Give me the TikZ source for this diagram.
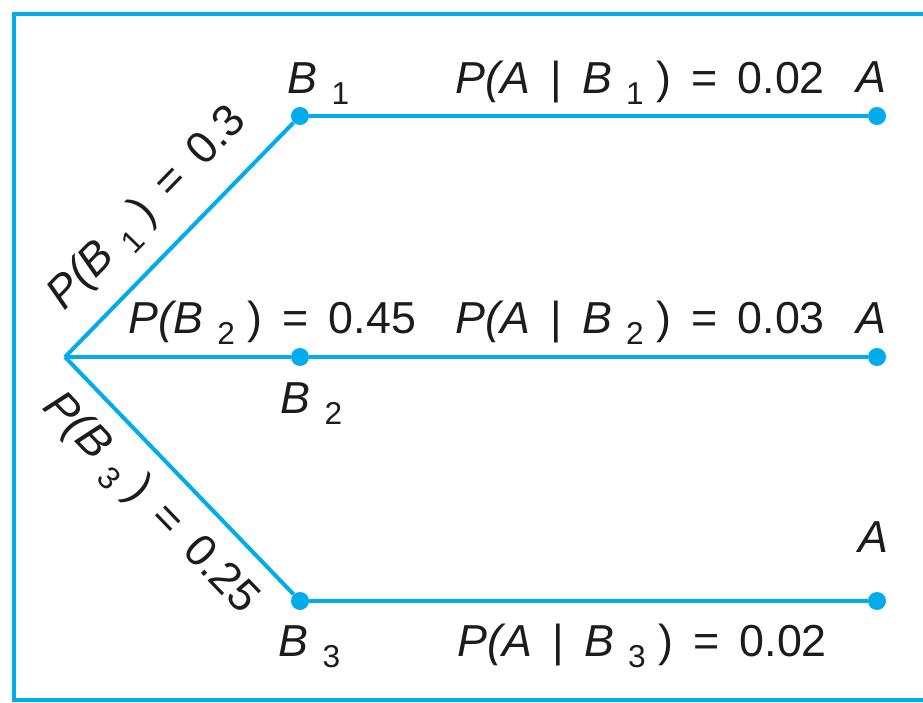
\documentclass[tikz,border=0pt]{standalone}
\usepackage{fontspec}
\setmainfont{Liberation Sans}
\usetikzlibrary{positioning}
\definecolor{treeblue}{RGB}{0,172,236}
\definecolor{ink}{RGB}{30,27,28}
\tikzset{
branch/.style={draw=treeblue, line width=0.08cm},
frame/.style={draw=treeblue, line width=0.09cm},
dot/.style={circle, fill=treeblue, inner sep=0pt, minimum size=0.36cm},
lbl/.style={text=ink, inner sep=0pt, font=\fontsize{25.5}{30}\selectfont}
}
\newcommand{\sbs}[1]{\hspace{0.32em}\raisebox{-0.25em}{\fontsize{18}{21}\selectfont\upshape #1}\hspace{0.28em}}
\newcommand{\gap}{\hspace{0.45em}}

\begin{document}
\begin{tikzpicture}[x=0.02cm, y=-0.02cm]
	\useasboundingbox (0,0) rectangle (923,703);
	\draw[frame] (940,14) -- (14,14) -- (14,700) -- (940,700);
	% root and the three events
	\coordinate (o) at (65,357);
	\node[dot] (b1) at (300,116) {};
	\node[dot] (b2) at (300,357) {};
	\node[dot] (b3) at (300,601) {};
	\node[dot] (a1) at (877,116) {};
	\node[dot] (a2) at (877,357) {};
	\node[dot] (a3) at (877,601) {};
	\draw[branch] (o) -- node[lbl, sloped, above=11pt] (pb1) {\textit{P(B}\sbs{1})\gap=\gap0.3} (b1);
	\draw[branch] (o) -- (b2);
	\draw[branch] (o) -- node[lbl, sloped, below=10pt] (pb3) {\textit{P(B}\sbs{3})\gap=\gap0.25} (b3);
	\draw[branch] (b1) -- (a1);
	\draw[branch] (b2) -- (a2);
	\draw[branch] (b3) -- (a3);
	% labels
	\node[lbl, anchor=base west] (pb2) at (128,333) {\textit{P(B}\sbs{2})\gap=\gap0.45};
	\node[lbl, anchor=base west] (lb1) at (287,93) {\textit{B}\sbs{1}};
	\node[lbl, anchor=base west] (lb2) at (280,413) {\textit{B}\sbs{2}};
	\node[lbl, anchor=base west] (lb3) at (278,656) {\textit{B}\sbs{3}};
	\node[lbl, anchor=base west] (pab1) at (455,93) {\textit{P(A}\gap|\gap\textit{B}\sbs{1})\gap=\gap0.02};
	\node[lbl, anchor=base west] (pab2) at (455,333) {\textit{P(A}\gap|\gap\textit{B}\sbs{2})\gap=\gap0.03};
	\node[lbl, anchor=base west] (pab3) at (457,656) {\textit{P(A}\gap|\gap\textit{B}\sbs{3})\gap=\gap0.02};
	\node[lbl, above=8pt of a1, xshift=-3pt] (la1) {\textit{A}};
	\node[lbl, above=8pt of a2, xshift=-3pt] (la2) {\textit{A}};
	\node[lbl, above=22pt of a3, xshift=-2pt] (la3) {\textit{A}};
\end{tikzpicture}
\end{document}
